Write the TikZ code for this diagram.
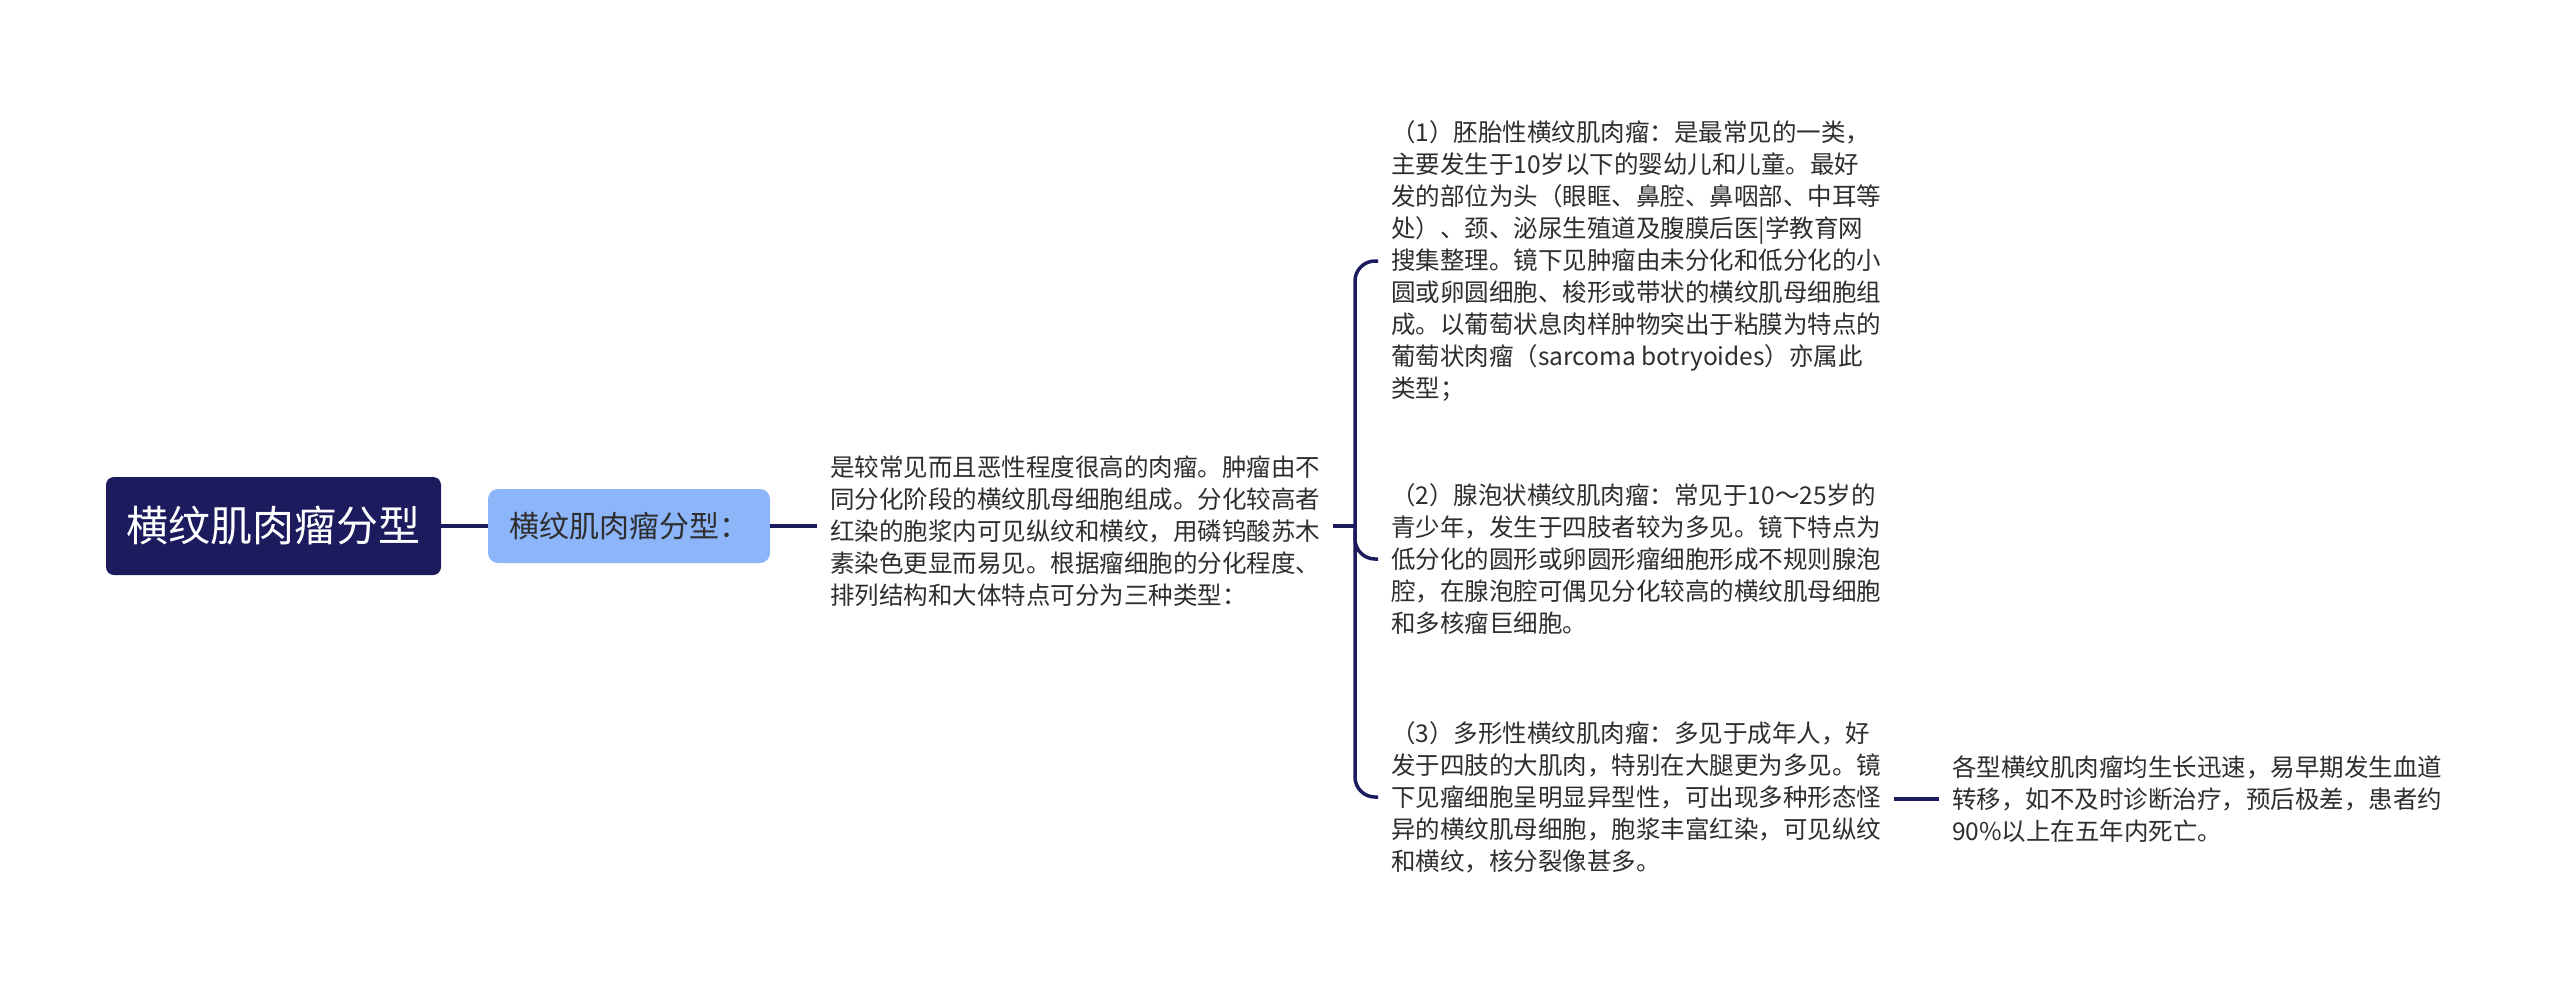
\documentclass[tikz,border=0pt]{standalone}
\usepackage{fontspec}
\setmainfont{Noto Sans CJK SC}
\usetikzlibrary{calc}
\definecolor{navy}{HTML}{1C1B5E}
\definecolor{lblue}{HTML}{8DB5FA}
\definecolor{txt}{HTML}{2E2E2E}
\tikzset{
  rootbox/.style={fill=navy, text=white, rounded corners=8pt, minimum width=335pt, minimum height=98pt, inner sep=0pt, font=\fontsize{42}{50}\selectfont},
  subbox/.style={fill=lblue, text=txt, rounded corners=10pt, minimum width=282pt, minimum height=74pt, inner sep=0pt, font=\fontsize{30}{36}\selectfont},
  para/.style={text=txt, align=left, anchor=west, inner xsep=13pt, inner ysep=0pt, font=\fontsize{24.5}{32}\selectfont},
  conn/.style={draw=navy, line width=3.5pt},
}
\begin{document}
\begin{tikzpicture}[x=1pt,y=-1pt]
\useasboundingbox[fill=white] (0,0) rectangle (2560,989);
\node[rootbox] (root) at (273.5,526) {横纹肌肉瘤分型};
\node[subbox] (sub) at (629,526) {横纹肌肉瘤分型：};
\node[para] (t3) at (817,531) {是较常见而且恶性程度很高的肉瘤。肿瘤由不\\同分化阶段的横纹肌母细胞组成。分化较高者\\红染的胞浆内可见纵纹和横纹，用磷钨酸苏木\\素染色更显而易见。根据瘤细胞的分化程度、\\排列结构和大体特点可分为三种类型：};
\node[para] (c1) at (1378,261) {（1）胚胎性横纹肌肉瘤：是最常见的一类，\\主要发生于10岁以下的婴幼儿和儿童。最好\\发的部位为头（眼眶、鼻腔、鼻咽部、中耳等\\处）、颈、泌尿生殖道及腹膜后医|学教育网\\搜集整理。镜下见肿瘤由未分化和低分化的小\\圆或卵圆细胞、梭形或带状的横纹肌母细胞组\\成。以葡萄状息肉样肿物突出于粘膜为特点的\\葡萄状肉瘤（sarcoma botryoides）亦属此\\类型；};
\node[para] (c2) at (1378,559) {（2）腺泡状横纹肌肉瘤：常见于10～25岁的\\青少年，发生于四肢者较为多见。镜下特点为\\低分化的圆形或卵圆形瘤细胞形成不规则腺泡\\腔，在腺泡腔可偶见分化较高的横纹肌母细胞\\和多核瘤巨细胞。};
\node[para] (c3) at (1378,797) {（3）多形性横纹肌肉瘤：多见于成年人，好\\发于四肢的大肌肉，特别在大腿更为多见。镜\\下见瘤细胞呈明显异型性，可出现多种形态怪\\异的横纹肌母细胞，胞浆丰富红染，可见纵纹\\和横纹，核分裂像甚多。};
\node[para] (c4) at (1939,799) {各型横纹肌肉瘤均生长迅速，易早期发生血道\\转移，如不及时诊断治疗，预后极差，患者约\\90\%以上在五年内死亡。};
\coordinate (br) at (1355,526);
\draw[conn] (root.east) -- (sub.west);
\draw[conn] (sub.east) -- (sub.east -| t3.west);
\draw[conn] (t3.east |- sub.east) -- (br);
\draw[conn, rounded corners=20pt] (c1.west) -- (c1.west -| br) -- (c3.west -| br) -- (c3.west);
\draw[conn, rounded corners=20pt] ($(br |- c2.west)+(0,-30)$) -- (br |- c2.west) -- (c2.west);
\draw[conn] (c3.east |- c4.west) -- (c4.west);
\end{tikzpicture}
\end{document}
